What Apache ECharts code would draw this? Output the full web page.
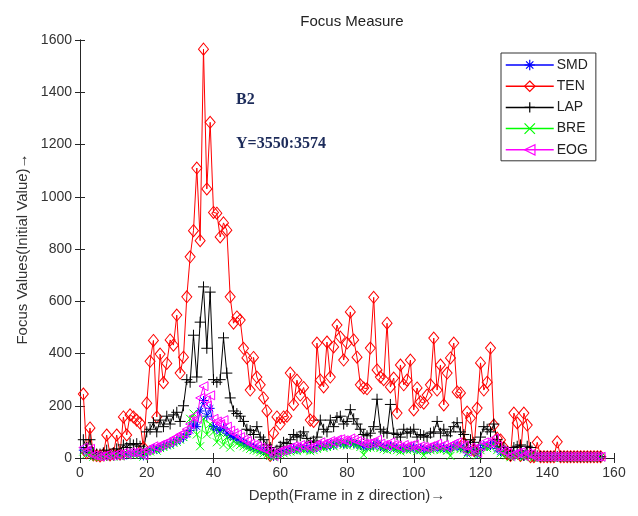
<!DOCTYPE html>
<html>
<head>
<meta charset="utf-8">
<script src="https://cdn.jsdelivr.net/npm/echarts@6/dist/echarts.min.js"></script>
<style>html,body{margin:0;padding:0;background:#fff}#c{width:638px;height:516px}</style>
</head>
<body>
<div id="c"></div>
<script>
var xTicks = [0, 20, 40, 60, 80, 100, 120, 140, 160];
var yTicks = [0, 200, 400, 600, 800, 1000, 1200, 1400, 1600];
var seriesNames = ['SMD', 'TEN', 'LAP', 'BRE', 'EOG'];

var TEN = [245,20,115,12,10,8,12,88,12,15,88,15,157,88,165,157,145,134,40,210,
370,450,157,398,288,362,452,432,547,325,386,617,770,870,1110,832,1565,1030,1285,940,
937,846,900,872,617,516,540,528,420,383,260,385,310,280,230,180,10,95,157,130,
157,160,325,205,298,241,270,210,145,140,440,298,272,444,310,425,509,463,375,440,
559,452,386,280,268,265,421,615,337,310,300,516,272,306,172,356,280,298,375,184,
268,215,210,241,280,459,260,356,203,325,383,440,253,249,57,176,153,30,191,364,
260,290,421,126,76,69,40,15,10,172,134,10,172,126,5,5,60,5,5,5,
5,5,62,5,5,5,5,5,5,5,5,5,5,5,5,5];

var LAP = [70,40,70,20,15,15,20,30,15,20,35,25,50,40,55,50,55,45,30,100,
110,135,100,145,120,160,130,165,175,140,200,300,290,470,310,520,655,420,635,300,
290,300,460,325,230,180,170,160,140,110,105,90,120,80,70,50,40,15,30,45,
60,55,70,90,80,85,100,75,60,65,80,145,110,100,145,120,155,160,130,140,
185,150,130,110,90,85,95,120,225,110,100,95,205,95,90,80,110,95,100,110,
80,90,85,80,95,100,140,95,110,85,100,120,135,100,90,40,70,60,30,80,
120,110,100,130,70,45,40,25,10,40,45,50,10,45,40,8,8,6,6,6,
6,6,6,6,6,5,5,5,5,5,5,5,5,5,5,5];

var SMD = [30,20,28,8,6,5,6,10,6,8,12,8,16,12,18,16,18,14,8,25,
28,36,32,40,45,50,52,60,65,70,78,90,105,130,120,180,220,160,190,120,
110,105,115,95,85,78,72,65,58,52,45,40,38,32,28,24,18,6,16,22,
25,28,32,36,32,40,36,40,32,36,40,48,44,46,52,48,56,58,54,52,
60,56,52,48,44,44,46,48,56,44,40,38,48,40,38,32,40,36,38,42,
32,36,34,32,36,38,44,36,40,34,38,44,48,40,38,20,32,28,16,36,
48,44,48,60,36,24,20,16,6,12,16,18,6,14,12,4,4,4,4,4,
4,4,4,4,4,4,4,4,4,4,4,4,4,4,4,4];

var BRE = [25,15,22,5,4,3,4,8,4,6,10,6,14,10,15,14,15,12,5,22,
25,32,28,38,42,48,50,58,62,70,80,95,150,170,90,45,150,90,130,100,
60,95,50,80,40,65,55,50,45,40,35,30,28,22,18,12,8,3,10,15,
18,22,25,30,26,35,30,34,26,30,35,45,38,42,50,45,55,58,50,48,
58,52,48,42,12,38,40,42,52,38,34,30,42,34,30,25,34,30,32,36,
26,30,10,26,30,32,38,30,34,28,8,38,42,34,32,15,26,22,10,30,
42,38,42,55,30,18,14,10,3,8,12,14,3,10,8,2,2,2,2,2,
2,2,2,2,2,2,2,2,2,2,2,2,2,2,2,2];

var EOG = [40,25,35,10,8,6,8,12,8,10,15,10,20,15,22,20,22,18,10,30,
35,45,40,50,55,60,65,75,80,90,95,110,130,160,150,230,275,200,240,150,
140,130,145,120,105,95,90,80,70,65,55,50,45,40,35,30,22,8,20,28,
30,35,40,45,40,50,45,50,40,45,50,60,55,58,65,60,70,72,68,65,
75,70,65,60,55,55,58,60,70,55,50,48,60,50,48,40,50,45,48,52,
40,45,42,40,45,48,55,45,50,42,48,55,60,50,48,25,40,35,20,45,
60,55,60,75,45,30,25,20,8,15,20,22,8,18,15,5,5,5,5,5,
5,5,5,5,5,5,5,5,5,5,5,5,5,5,5,5];

var frames = TEN.map(function (v, i) { return i + 1; });
function pairs(arr) { return arr.map(function (v, i) { return [frames[i], v]; }); }

var chart = echarts.init(document.getElementById('c'), null, {renderer: 'canvas'});
var font = 'Liberation Sans, Arial, sans-serif';
var axisColor = '#262626';

var symbols = {
  SMD: 'path://M5,0L5,10M0,5L10,5M1.5,1.5L8.5,8.5M8.5,1.5L1.5,8.5',
  TEN: 'path://M5,0L10,6L5,12L0,6Z',
  LAP: 'path://M5,0L5,10M0,5L10,5',
  BRE: 'path://M0,0L10,10M10,0L0,10',
  EOG: 'path://M0,5L10,0L10,10Z'
};
var colors = {SMD: '#0000ff', TEN: '#ff0000', LAP: '#000000', BRE: '#00ff00', EOG: '#ff00ff'};
var sizes = {SMD: [9, 9], TEN: [10, 12], LAP: [11, 11], BRE: [8, 8], EOG: [9, 9]};
var dataMap = {SMD: SMD, TEN: TEN, LAP: LAP, BRE: BRE, EOG: EOG};

var series = seriesNames.map(function (n) {
  return {
    name: n, type: 'line', data: pairs(dataMap[n]),
    symbol: symbols[n], symbolSize: sizes[n], showAllSymbol: true,
    lineStyle: {color: colors[n], width: 1},
    itemStyle: {color: 'rgba(0,0,0,0)', borderColor: colors[n], borderWidth: 1},
    emphasis: {disabled: true}, animation: false, z: 2
  };
});

var legendData = seriesNames.map(function (n) {
  return {name: n, itemStyle: {color: 'rgba(0,0,0,0)', borderColor: colors[n], borderWidth: 1.2},
    lineStyle: {color: colors[n], width: 1.5}};
});

chart.setOption({
  animation: false,
  backgroundColor: '#fff',
  title: {text: 'Focus Measure', left: 347, top: 9, textAlign: 'center',
    textStyle: {fontFamily: font, fontSize: 15, fontWeight: 'normal', color: '#222'}},
  grid: {left: 80, right: 24, top: 40, bottom: 58, show: false},
  legend: {
    data: legendData, orient: 'vertical', left: 501, top: 53,
    itemWidth: 48, itemHeight: 13, itemGap: 7.2,
    padding: [5, 8, 4, 4],
    backgroundColor: '#fff', borderColor: '#333', borderWidth: 1,
    textStyle: {fontFamily: font, fontSize: 14, color: '#222', padding: [0, 0, 0, -2]}
  },
  xAxis: [{
    type: 'value', min: 0, max: 160, interval: 20,
    name: 'Depth(Frame in z direction)\u2192', nameLocation: 'middle', nameGap: 30,
    nameTextStyle: {fontFamily: font, fontSize: 15, color: '#333'},
    axisLine: {show: true, lineStyle: {color: axisColor, width: 1}},
    axisTick: {show: true, inside: true, length: 5, lineStyle: {color: axisColor}},
    axisLabel: {fontFamily: font, fontSize: 14, color: '#333', margin: 8},
    splitLine: {show: false}
  }, {
    type: 'value', min: 0, max: 160, interval: 20, position: 'top',
    axisLine: {show: true, lineStyle: {color: axisColor, width: 1}},
    axisTick: {show: true, inside: true, length: 5, lineStyle: {color: axisColor}},
    axisLabel: {show: false}, splitLine: {show: false}
  }],
  yAxis: [{
    type: 'value', min: 0, max: 1600, interval: 200,
    name: 'Focus Values(Initial Value)\u2192', nameLocation: 'middle', nameGap: 47,
    nameRotate: 90,
    nameTextStyle: {fontFamily: font, fontSize: 15, color: '#333'},
    axisLine: {show: true, lineStyle: {color: axisColor, width: 1}},
    axisTick: {show: true, inside: true, length: 5, lineStyle: {color: axisColor}},
    axisLabel: {fontFamily: font, fontSize: 14, color: '#333', margin: 8,
      formatter: function (v) { return String(v); }},
    splitLine: {show: false}
  }, {
    type: 'value', min: 0, max: 1600, interval: 200, position: 'right',
    axisLine: {show: true, lineStyle: {color: axisColor, width: 1}},
    axisTick: {show: true, inside: true, length: 5, lineStyle: {color: axisColor}},
    axisLabel: {show: false}, splitLine: {show: false}
  }],
  graphic: [
    {type: 'text', left: 236, top: 92, z: 10,
      style: {text: 'B2', font: 'bold 16px "Liberation Serif", "Times New Roman", serif', fill: '#1c2b5a'}},
    {type: 'text', left: 236, top: 136, z: 10,
      style: {text: 'Y=3550:3574', font: 'bold 16px "Liberation Serif", "Times New Roman", serif', fill: '#1c2b5a'}}
  ],
  series: series
});
</script>
</body>
</html>
